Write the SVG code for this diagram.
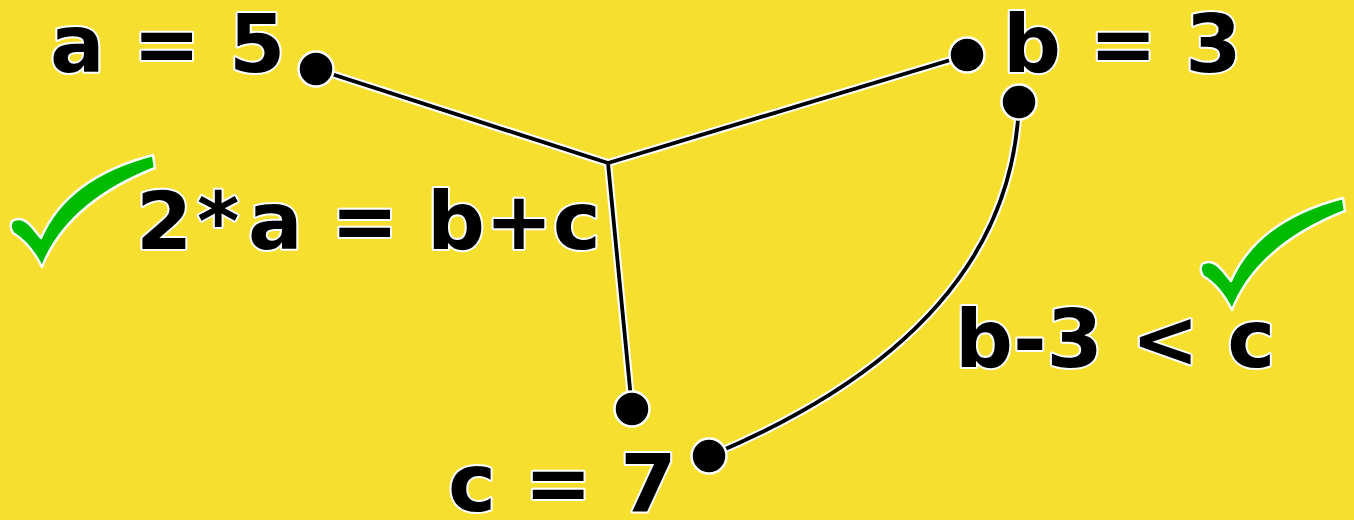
<svg xmlns="http://www.w3.org/2000/svg" width="1354" height="520" viewBox="0 0 1354 520">
<style>
.lbl{font-family:"DejaVu Sans","Liberation Sans",sans-serif;font-weight:bold;font-size:81px;fill:#000;stroke:#fff;stroke-width:4;paint-order:stroke;stroke-linejoin:round}
.dot{fill:#000;stroke:#fff;stroke-width:2.5}
.halo{fill:none;stroke:#fff;stroke-width:8;stroke-linejoin:round}
.wire{fill:none;stroke:#000;stroke-width:3.8;stroke-linejoin:round}
.chk{fill:#00bb00;stroke:#fff;stroke-width:2.5;stroke-linejoin:round}
</style>
<defs>
<path id="check" d="M-30,-46 Q-20,-52 -10,-40 L-1,-29 Q25,-89.5 111,-112 L113,-99 Q25.5,-64.5 0,0 Q-12,-24 -29,-34 Q-33,-40 -30,-46 Z"/>
</defs>
<rect width="1354" height="520" fill="#f6df2f"/>
<g id="connectors">
<path class="halo" d="M316,69 L608,163 L967,55 M608,163 L632,409 M1019,102 C1015,230 940,360 709,456"/>
<path class="wire" d="M316,69 L608,163 L967,55 M608,163 L632,409 M1019,102 C1015,230 940,360 709,456"/>
</g>
<g id="node-a">
<text class="lbl" x="50" y="72">a = 5</text>
<circle class="dot" cx="316" cy="69" r="17.5"/>
</g>
<g id="node-b">
<text class="lbl" x="1003" y="72">b = 3</text>
<circle class="dot" cx="967" cy="55" r="17.5"/>
<circle class="dot" cx="1019" cy="102" r="17.5"/>
</g>
<g id="node-c">
<text class="lbl" x="448" y="511">c = 7</text>
<circle class="dot" cx="632" cy="409" r="17.5"/>
<circle class="dot" cx="709" cy="456" r="17.5"/>
</g>
<g id="constraint-1">
<use href="#check" class="chk" transform="translate(42,267)"/>
<text class="lbl" y="249"><tspan x="136">2</tspan><tspan x="197">*</tspan><tspan x="248">a = b+c</tspan></text>
</g>
<g id="constraint-2">
<use href="#check" class="chk" transform="translate(1232,310)"/>
<text class="lbl" x="955" y="367">b-3 &lt; c</text>
</g>
</svg>
